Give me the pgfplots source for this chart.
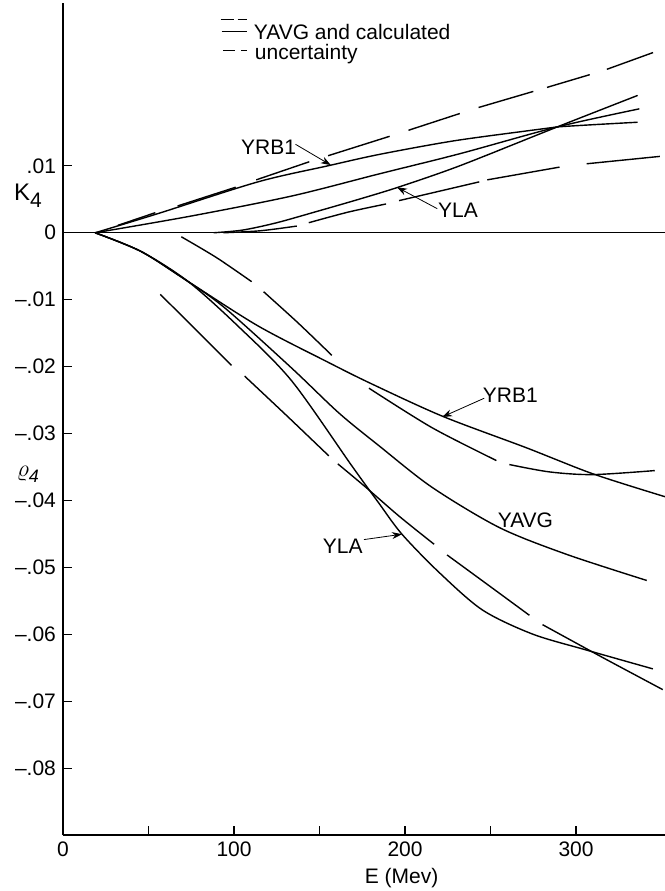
\documentclass[border=0pt]{standalone}
\usepackage{fontspec}
\setmainfont{Liberation Sans}
\usepackage{pgfplots}
\pgfplotsset{compat=1.18}
\usetikzlibrary{arrows.meta,calc}
\begin{document}
\begin{tikzpicture}[font=\fontsize{10.5}{12.6}\selectfont]
\begin{axis}[name=ax, at={(0,0)}, anchor=south west,
 scale only axis, width=301pt, height=416pt,
 xmin=0, xmax=352, ymin=-0.0899, ymax=0.0343,
 axis x line=bottom, axis y line=left,
 axis line style={-, line width=0.7pt},
 xtick={0,50,100,150,200,250,300}, xticklabels={0,,100,,200,,300},
 ytick={-0.08,-0.07,-0.06,-0.05,-0.04,-0.03,-0.02,-0.01,0,0.01},
 yticklabels={--.08,--.07,--.06,--.05,--.04,--.03,--.02,--.01,0,.01},
 scaled y ticks=false, scaled x ticks=false,
 tick align=inside, major tick length=4.5pt,
 tick style={black, line width=0.7pt},
 /pgf/number format/assume math mode=true,
 ticklabel style={font=\fontsize{10.5}{12.6}\selectfont},
 clip=false, unbounded coords=jump,
 curve/.style={black, line width=0.7pt, smooth, mark=none, solid},
]
% zero line
\addplot[curve, sharp plot] coordinates {(0,0) (352,0)};
% ---- K4 (upper part) ----
% YRB1
\addplot[curve] coordinates {(18.8,0) (56,0.0029) (114,0.0076) (155,0.0100) (185,0.0117) (228,0.0137) (271,0.0152) (289,0.0158) (336,0.0165)};
% YAVG
\addplot[curve] coordinates {(18.8,0) (75,0.0025) (134,0.0055) (185,0.0088) (232,0.0118) (289,0.0158) (337,0.0185)};
% YLA
\addplot[curve] coordinates {(88,0) (105,0.0004) (125,0.0015) (150,0.0033) (173,0.0050) (196,0.0068) (232,0.0100) (289,0.0158) (336,0.0205)};
% YAVG uncertainty, upper
\addplot[curve] coordinates {(32,0.0011) (54,0.0030) (nan,nan) (67,0.0040) (101,0.0068) (nan,nan)
 (113,0.0079) (144,0.0106) (nan,nan) (155,0.0115) (191,0.0144) (nan,nan)
 (202,0.0153) (232,0.0178) (nan,nan) (243,0.0187) (275,0.0211) (nan,nan)
 (283,0.0217) (308,0.0236) (nan,nan) (318,0.0244) (345,0.0269)};
% YAVG uncertainty, lower
\addplot[curve] coordinates {(93.8,0) (115.5,0.0003) (136.7,0.0010) (nan,nan)
 (143.7,0.0015) (167,0.0031) (188.9,0.0043) (nan,nan)
 (196.5,0.0048) (220,0.0062) (243.4,0.0076) (nan,nan)
 (248.1,0.0079) (290.3,0.0098) (nan,nan) (306.2,0.0103) (349,0.0114)};
% ---- rho4 (lower part) ----
% YRB1
\addplot[curve] coordinates {(18.8,0) (45.7,-0.0028) (73.3,-0.0073) (114,-0.0139) (154,-0.0192) (180,-0.0225) (222,-0.0274) (271,-0.0321) (310,-0.0360) (352,-0.0394)};
% YAVG
\addplot[curve] coordinates {(18.8,0) (45.7,-0.0028) (73.3,-0.0073) (95,-0.0113) (133.7,-0.0202) (161.3,-0.0269) (184.8,-0.0318) (215.8,-0.0380) (255.1,-0.0440) (294.4,-0.0480) (341.3,-0.0519)};
% YLA
\addplot[curve] coordinates {(18.8,0) (45.7,-0.0028) (73.3,-0.0073) (102.6,-0.0140) (133.7,-0.0221) (168.9,-0.0348) (184.8,-0.0404) (198.2,-0.0450) (219.9,-0.0507) (245.2,-0.0563) (274.5,-0.0599) (306.2,-0.0623) (344.9,-0.0651)};
% YAVG uncertainty, upper
\addplot[curve] coordinates {(69.2,-0.0006) (89.7,-0.0037) (110.3,-0.0073) (nan,nan)
 (117.3,-0.0088) (137.2,-0.0134) (157.2,-0.0183) (nan,nan)
 (178.9,-0.0232) (215.8,-0.0291) (253.4,-0.0340) (nan,nan)
 (261,-0.0346) (284.5,-0.0357) (309.7,-0.0361) (346,-0.0355)};
% YAVG uncertainty, lower
\addplot[curve] coordinates {(56.9,-0.0092) (77.4,-0.0144) (98.5,-0.0198) (nan,nan)
 (106.2,-0.0214) (130.8,-0.0273) (155.4,-0.0333) (nan,nan)
 (160.7,-0.0345) (177.1,-0.0380) (196.5,-0.0423) (217,-0.0465) (nan,nan)
 (224.6,-0.0481) (248.7,-0.0526) (272.7,-0.0571) (nan,nan)
 (280.4,-0.0585) (315.5,-0.0634) (350.7,-0.0682)};
% ---- annotations ----
\node at (axis cs:120.2,0.0128) {YRB1};
\draw[-{Stealth[length=5pt,width=3.5pt]}, line width=0.4pt] (axis cs:136,0.0132) -- (axis cs:156.6,0.0101);
\node at (axis cs:231,0.0033) {YLA};
\draw[-{Stealth[length=5pt,width=3.5pt]}, line width=0.4pt] (axis cs:218.8,0.0036) -- (axis cs:195.3,0.0068);
\node at (axis cs:261.6,-0.0242) {YRB1};
\draw[-{Stealth[length=5pt,width=3.5pt]}, line width=0.4pt] (axis cs:246.3,-0.0247) -- (axis cs:221.7,-0.0275);
\node at (axis cs:270.4,-0.0429) {YAVG};
\node at (axis cs:163.6,-0.0468) {YLA};
\draw[-{Stealth[length=5pt,width=3.5pt]}, line width=0.4pt] (axis cs:176,-0.0458) -- (axis cs:198.2,-0.0450);
% axis labels
\node at (axis cs:-20.5,0.0055) {\fontsize{12}{14}\selectfont K\raisebox{-0.55ex}{\fontsize{10.5}{12}\selectfont 4}};
\node at (axis cs:-20.5,-0.0361) {{\fontsize{13}{15}\selectfont$\varrho$}\raisebox{-0.5ex}{\fontsize{9}{11}\selectfont\itshape 4}};
\node at (axis cs:198,-0.0899) [yshift=-21.5pt] {E (Mev)};
% key
\draw[line width=0.7pt, dash pattern=on 6.5pt off 2pt] (axis cs:92.1,0.0318) -- (axis cs:107.3,0.0318);
\draw[line width=0.7pt] (axis cs:92.7,0.0300) -- (axis cs:107.3,0.0300);
\draw[line width=0.7pt, dash pattern=on 6pt off 3pt] (axis cs:93.8,0.0272) -- (axis cs:107.3,0.0272);
\node[anchor=base west, inner sep=0pt] at (axis cs:111.4,0.0288) {YAVG and calculated};
\node[anchor=base west, inner sep=0pt] at (axis cs:112,0.0258) {uncertainty};
\end{axis}
\pgfresetboundingbox
\path[use as bounding box] ($(ax.south west)+(-31.5pt,-28pt)$) rectangle ($(ax.north east)+(0pt,1.5pt)$);
\end{tikzpicture}
\end{document}
